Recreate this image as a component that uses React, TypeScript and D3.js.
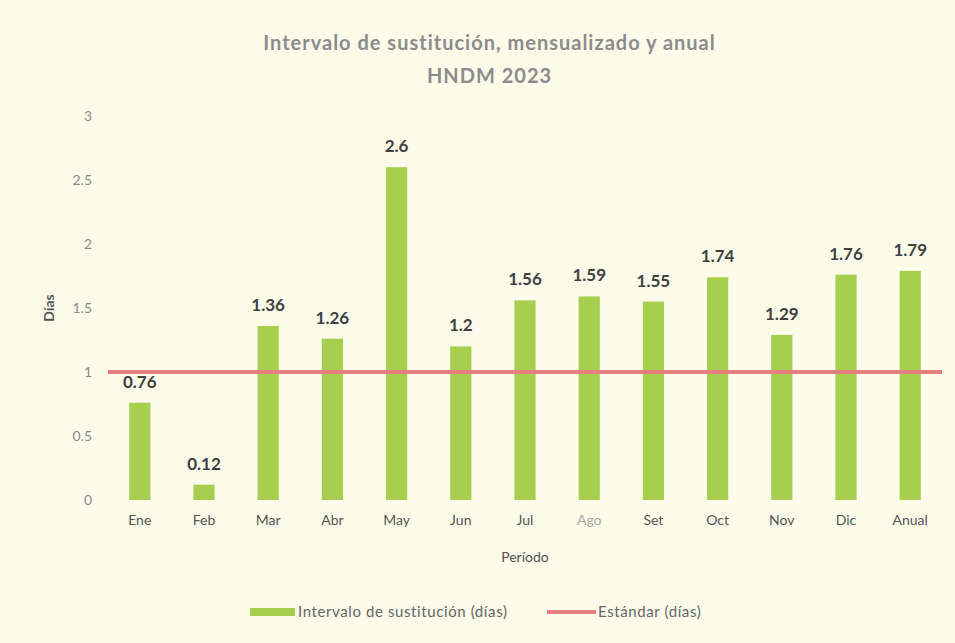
import React from 'react';
import * as d3 from 'd3';

// chart data
const periods = ['Ene', 'Feb', 'Mar', 'Abr', 'May', 'Jun', 'Jul', 'Ago', 'Set', 'Oct', 'Nov', 'Dic', 'Anual'];
const intervalo = [0.76, 0.12, 1.36, 1.26, 2.6, 1.2, 1.56, 1.59, 1.55, 1.74, 1.29, 1.76, 1.79];
const estandar = [1, 1, 1, 1, 1, 1, 1, 1, 1, 1, 1, 1, 1];
const yTicks = [0, 0.5, 1, 1.5, 2, 2.5, 3];

const W = 955;
const H = 643;
const margin = { top: 116, right: 13, bottom: 143, left: 108 };
const font = 'Lato, "Open Sans", sans-serif';

export default function App() {
  const innerW = W - margin.left - margin.right;
  const innerH = H - margin.top - margin.bottom;

  const x = d3.scaleBand().domain(periods).range([0, innerW]).paddingInner(0.67).paddingOuter(0.33);
  const y = d3.scaleLinear().domain([0, 3]).range([innerH, 0]);
  const cx = (p: string) => (x(p) as number) + x.bandwidth() / 2;

  // standard line runs from plot edge to plot edge, like Excel does
  const pts: [number, number][] = estandar.map((d, i) => [cx(periods[i]), y(d)]);
  const path = d3.line<[number, number]>()([
    [0, y(estandar[0])],
    ...pts,
    [innerW, y(estandar[estandar.length - 1])],
  ]);

  return (
    <svg width={W} height={H} style={{ position: 'absolute', left: 0, top: 0 }}>
      <rect width={W} height={H} fill="#fdfbea" />
      <text x={W / 2 + 12} y={50} textAnchor="middle" fontFamily={font} fontSize={20} fontWeight={700}
        letterSpacing={1} fill="#8c8c8c">
        Intervalo de sustitución, mensualizado y anual
      </text>
      <text x={W / 2 + 12} y={83} textAnchor="middle" fontFamily={font} fontSize={20} fontWeight={700}
        letterSpacing={1} fill="#8c8c8c">
        HNDM 2023
      </text>
      <g transform={`translate(${margin.left},${margin.top})`}>
        {yTicks.map((t) => (
          <text key={t} x={-16} y={y(t)} dy="0.35em" textAnchor="end" fontFamily={font} fontSize={14} fill="#8a8a8a">
            {t}
          </text>
        ))}
        {intervalo.map((v, i) => (
          <g key={periods[i]}>
            <rect x={x(periods[i])} y={y(v)} width={x.bandwidth()} height={innerH - y(v)} fill="#a6cf4f" />
            <text x={cx(periods[i])} y={y(v) - 15} textAnchor="middle"
              fontFamily={font} fontSize={17} fontWeight={700} fill="#404040">
              {v}
            </text>
            <text x={cx(periods[i])} y={innerH + 25} textAnchor="middle"
              fontFamily={font} fontSize={14} fill={periods[i] === 'Ago' ? '#a8a8a8' : '#555'}>
              {periods[i]}
            </text>
          </g>
        ))}
        <path d={path ?? ''} fill="none" stroke="#e57f7f" strokeWidth={4} />
        <text x={innerW / 2} y={innerH + 62} textAnchor="middle" fontFamily={font} fontSize={14} fill="#555">
          Período
        </text>
        <text transform={`translate(${-54},${y(1.5)}) rotate(-90)`} textAnchor="middle"
          fontFamily={font} fontSize={14} fontWeight={700} fill="#555">
          Días
        </text>
      </g>
      <g transform="translate(250,612)">
        <rect x={0} y={-4} width={45} height={8} fill="#a6cf4f" />
        <text x={48} y={0} dy="0.35em" fontFamily={font} fontSize={15} letterSpacing={0.6} fill="#666">
          Intervalo de sustitución (días)
        </text>
        <line x1={297} x2={346} y1={0} y2={0} stroke="#e57f7f" strokeWidth={4} />
        <text x={348} y={0} dy="0.35em" fontFamily={font} fontSize={15} letterSpacing={0.6} fill="#666">
          Estándar (días)
        </text>
      </g>
    </svg>
  );
}
